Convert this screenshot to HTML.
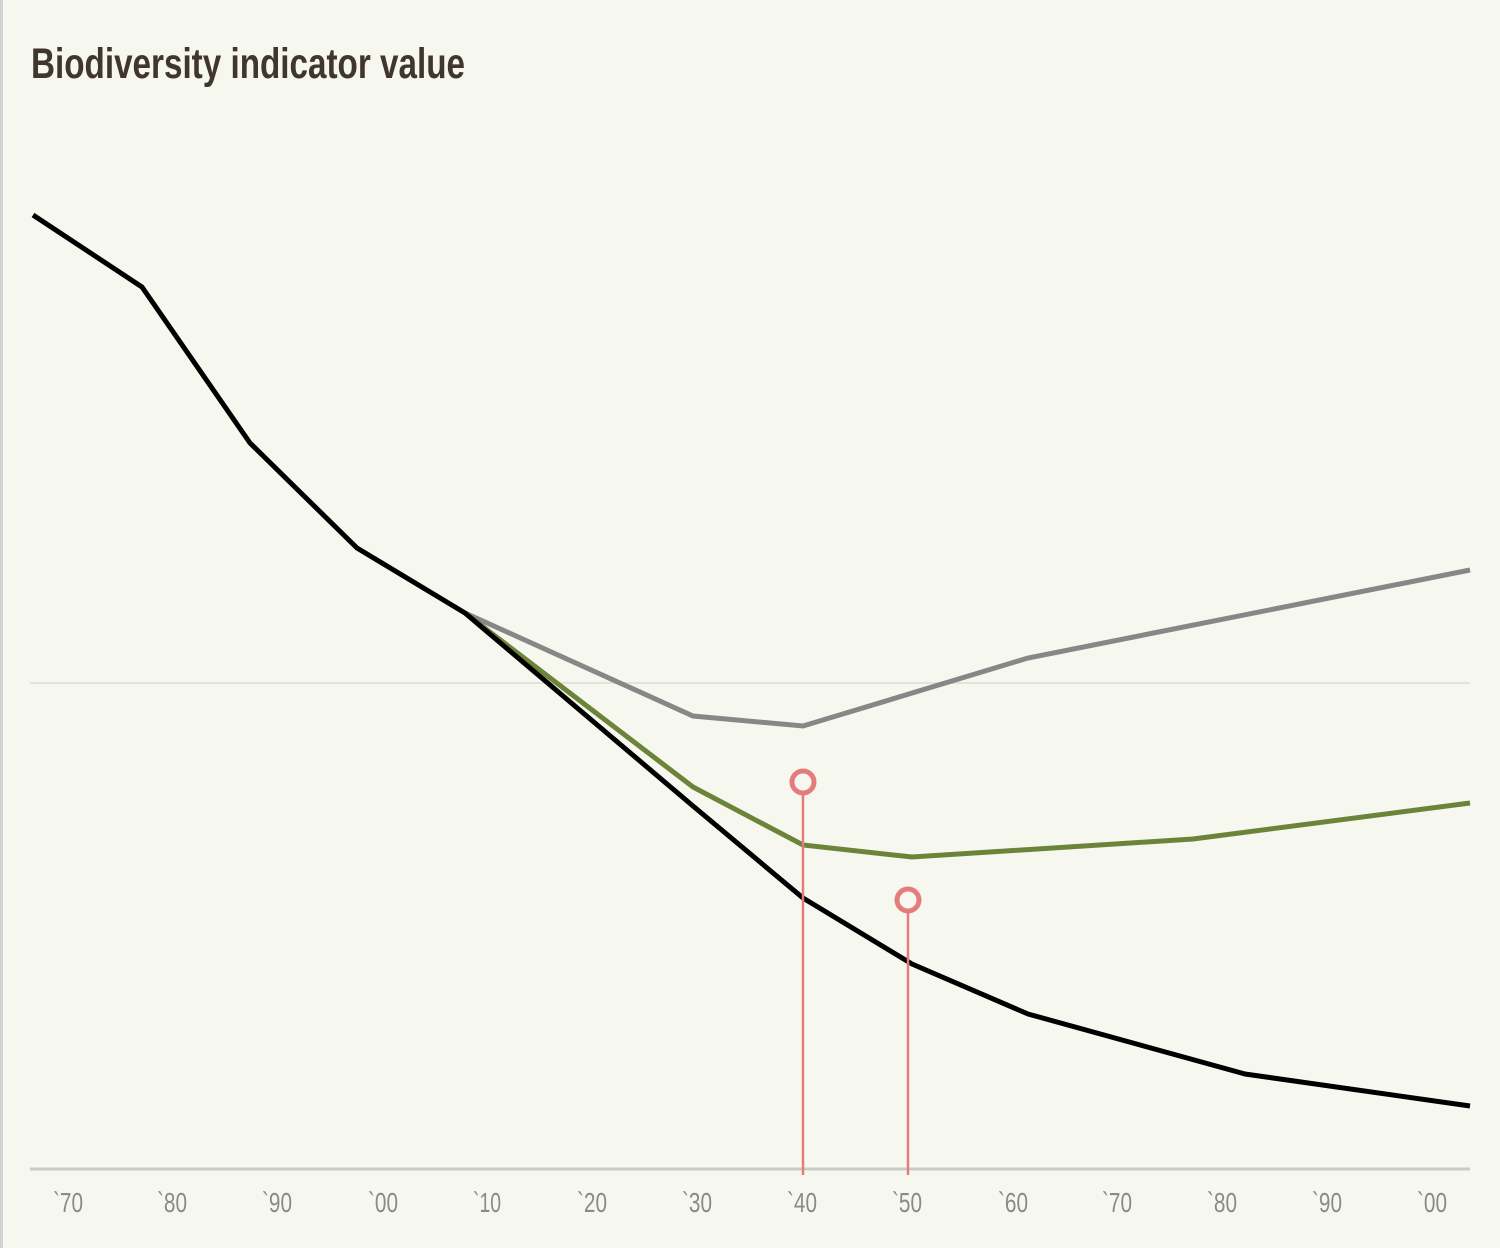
<!DOCTYPE html>
<html><head><meta charset="utf-8"><style>
html,body{margin:0;padding:0;background:#f6f8f0;}
body{width:1500px;height:1248px;overflow:hidden;position:relative;}
</style></head><body>
<svg width="1500" height="1248" xmlns="http://www.w3.org/2000/svg" style="position:absolute;left:0;top:0">
<rect x="0" y="0" width="1500" height="1248" fill="#f6f8f0"/>
<rect x="0" y="0" width="3" height="1248" fill="#d2d3d3"/>
<text x="31" y="78" font-family="Liberation Sans Narrow, Liberation Sans, sans-serif" font-weight="bold" font-size="43" fill="#41352f" textLength="434" lengthAdjust="spacingAndGlyphs">Biodiversity indicator value</text>
<line x1="30" y1="683" x2="1470" y2="683" stroke="#e2e4dc" stroke-width="2"/>
<line x1="30" y1="1169" x2="1470" y2="1169" stroke="#c9ccc5" stroke-width="3"/>
<g font-family="Liberation Sans Narrow, Liberation Sans, sans-serif" font-size="28" fill="#8a8a8a" text-anchor="middle" lengthAdjust="spacingAndGlyphs">
<text x="68" y="1212" textLength="30" lengthAdjust="spacingAndGlyphs">`70</text><text x="172" y="1212" textLength="30" lengthAdjust="spacingAndGlyphs">`80</text><text x="277" y="1212" textLength="30" lengthAdjust="spacingAndGlyphs">`90</text><text x="383" y="1212" textLength="30" lengthAdjust="spacingAndGlyphs">`00</text><text x="487" y="1212" textLength="28" lengthAdjust="spacingAndGlyphs">`10</text><text x="592" y="1212" textLength="30" lengthAdjust="spacingAndGlyphs">`20</text><text x="697" y="1212" textLength="30" lengthAdjust="spacingAndGlyphs">`30</text><text x="802" y="1212" textLength="30" lengthAdjust="spacingAndGlyphs">`40</text><text x="907" y="1212" textLength="30" lengthAdjust="spacingAndGlyphs">`50</text><text x="1013" y="1212" textLength="30" lengthAdjust="spacingAndGlyphs">`60</text><text x="1117" y="1212" textLength="30" lengthAdjust="spacingAndGlyphs">`70</text><text x="1222" y="1212" textLength="30" lengthAdjust="spacingAndGlyphs">`80</text><text x="1327" y="1212" textLength="30" lengthAdjust="spacingAndGlyphs">`90</text><text x="1432" y="1212" textLength="30" lengthAdjust="spacingAndGlyphs">`00</text>
</g>
<polyline fill="none" stroke="#878787" stroke-width="5" points="465,613 693,716 803,726 1028,658 1470,570"/>
<polyline fill="none" stroke="#6b843a" stroke-width="5" points="465,613 693,787 803,845 912,857 1193,839 1470,803"/>
<polyline fill="none" stroke="#000" stroke-width="5" stroke-linejoin="round" points="33,215 142,287 250,443 357,548 465,613 693,806 803,898 912,964 1028,1014 1245,1074 1470,1106"/>
<g stroke="#e47c7c" fill="#f6f8f0">
<line x1="803" y1="794" x2="803" y2="1175" stroke-width="2.5"/>
<circle cx="803" cy="782" r="11" stroke-width="5"/>
<line x1="908" y1="912" x2="908" y2="1175" stroke-width="2.5"/>
<circle cx="908" cy="900" r="11" stroke-width="5"/>
</g>
</svg>
</body></html>
